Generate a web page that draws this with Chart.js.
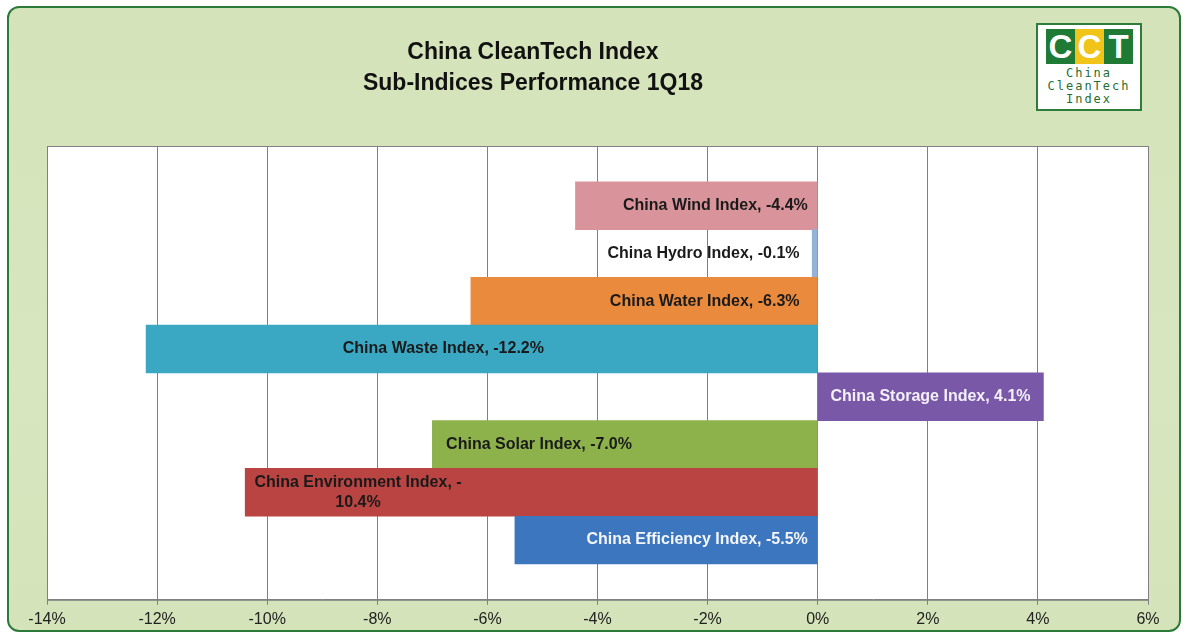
<!DOCTYPE html>
<html>
<head>
<meta charset="utf-8">
<script src="https://cdn.jsdelivr.net/npm/chart.js@4.4.1/dist/chart.umd.min.js"></script>
<style>
  html, body { margin: 0; padding: 0; background: #ffffff; }
  #wrap { position: relative; width: 1184px; height: 635px; overflow: hidden; }
  #frame {
    position: absolute; left: 7px; top: 6px; width: 1170px; height: 622px;
    border: 2.5px solid #2c7a3a; border-radius: 12px;
    background: linear-gradient(180deg, #d4e3b9 0%, #d8e6c0 60%, #d4e3b9 100%);
  }
  #chart { position: absolute; left: 0; top: 0; }
  #title {
    position: absolute; left: 283px; width: 500px; top: 36px;
    text-align: center; font: bold 23px "Liberation Sans", Arial, sans-serif;
    line-height: 31px; color: #111;
  }
  #logo {
    position: absolute; left: 1036px; top: 23px; width: 102px; height: 84px;
    border: 2px solid #2e7d3a; background: #ffffff;
  }
  #logo .cct { display: flex; margin: 4px 0 0 8px; height: 35px; }
  #logo .cct span {
    display: block; width: 29px; height: 35px; text-align: center;
    font: 900 33px/35px "Liberation Sans", Arial, sans-serif; color: #ffffff;
  }
  #logo .g { background: #1f7a35; }
  #logo .y { background: #f0c419; }
  #logo .txt {
    text-align: center; color: #1f6e30; letter-spacing: 2px;
    font: 12px/13px "DejaVu Sans Mono", monospace; margin-top: 3px;
  }
</style>
</head>
<body>
<div id="wrap">
  <div id="frame"></div>
  <canvas id="chart" width="1184" height="635"></canvas>
  <div id="title">China CleanTech Index<br>Sub-Indices Performance 1Q18</div>
  <div id="logo">
    <div class="cct"><span class="g">C</span><span class="y">C</span><span class="g">T</span></div>
    <div class="txt">China<br>CleanTech<br>Index</div>
  </div>
</div>
<script>
// sub-indices, top to bottom
const categories = ['China Wind Index', 'China Hydro Index', 'China Water Index', 'China Waste Index',
  'China Storage Index', 'China Solar Index', 'China Environment Index', 'China Efficiency Index'];
const returns = [-4.4, -0.1, -6.3, -12.2, 4.1, -7.0, -10.4, -5.5];
const xTickValues = [-14, -12, -10, -8, -6, -4, -2, 0, 2, 4, 6];

const barColors = ['#d9939a', '#95b3d7', '#ea8a3c', '#3ba8c3', '#7a58a8', '#8db24b', '#ba4441', '#3c76bf'];
const labelColors = ['#1a1a1a', '#1a1a1a', '#1a1a1a', '#1a1a1a', '#f4f0fa', '#1a1a1a', '#1a1a1a', '#f4f6fb'];
// where each data label sits (in axis units) and how it is aligned there
const labelAt = [-0.18, -0.33, -0.33, -6.8, 2.05, -6.75, -8.35, -0.18];
const labelAlign = ['right', 'right', 'right', 'center', 'center', 'left', 'center', 'right'];

const labelFont = 'bold 16px "Liberation Sans", Arial, sans-serif';

const plotBox = {
  id: 'plotBox',
  beforeDraw(chart) {
    const { ctx, chartArea: a } = chart;
    ctx.save();
    ctx.fillStyle = '#ffffff';
    ctx.fillRect(a.left, a.top, a.width, a.height);
    ctx.strokeStyle = '#808080';
    ctx.lineWidth = 1;
    ctx.strokeRect(a.left + 0.5, a.top + 0.5, a.width, a.height);
    ctx.restore();
  }
};

const barLabels = {
  id: 'barLabels',
  afterDatasetsDraw(chart) {
    const ctx = chart.ctx;
    const xs = chart.scales.x;
    chart.getDatasetMeta(0).data.forEach((bar, i) => {
      const v = returns[i];
      let lines = [`${categories[i]}, ${v.toFixed(1)}%`];
      // Excel wrapped the long environment label
      if (lines[0].length > 30) lines = [`${categories[i]}, -`, `${Math.abs(v).toFixed(1)}%`];
      ctx.save();
      ctx.font = labelFont;
      ctx.fillStyle = labelColors[i];
      ctx.textAlign = labelAlign[i];
      ctx.textBaseline = 'middle';
      const x = xs.getPixelForValue(labelAt[i]);
      lines.forEach((t, k) => {
        ctx.fillText(t, x, bar.y + (k - (lines.length - 1) / 2) * 20);
      });
      ctx.restore();
    });
  }
};

new Chart(document.getElementById('chart'), {
  type: 'bar',
  data: {
    datasets: [{
      data: returns.map((v, i) => ({ x: v, y: i })),
      backgroundColor: barColors,
      borderWidth: 0,
      barPercentage: 1,
      categoryPercentage: 1
    }]
  },
  options: {
    indexAxis: 'y',
    responsive: false,
    animation: false,
    layout: { padding: { left: 47, right: 36, top: 146, bottom: 1 } },
    plugins: { legend: { display: false }, tooltip: { enabled: false } },
    scales: {
      x: {
        type: 'linear',
        min: -14,
        max: 6,
        afterBuildTicks: (scale) => { scale.ticks = xTickValues.map(v => ({ value: v })); },
        grid: { color: '#808080', lineWidth: 1, tickLength: 5 },
        border: { color: '#808080' },
        ticks: {
          padding: 5,
          color: '#222222',
          font: { family: '"Liberation Sans", Arial, sans-serif', size: 16 },
          callback: (v) => v + '%'
        }
      },
      y: {
        type: 'linear',
        reverse: true,
        offset: false,
        min: -1.25,
        max: 8.25,
        display: false
      }
    }
  },
  plugins: [plotBox, barLabels]
});
</script>
</body>
</html>
